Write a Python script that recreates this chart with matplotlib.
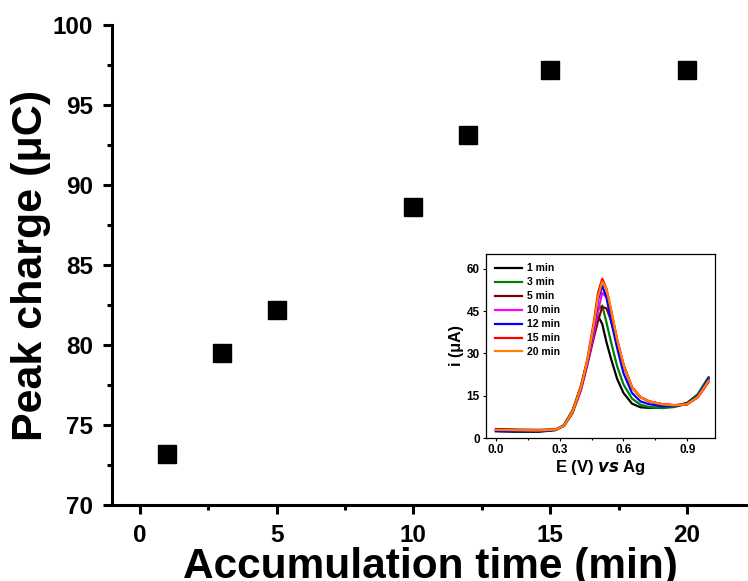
import numpy as np
import matplotlib.pyplot as plt
from matplotlib.ticker import MultipleLocator

plt.rcParams['font.family'] = ['Liberation Sans', 'DejaVu Sans']
plt.rcParams['font.weight'] = 'bold'

# main data
time_min = [1, 3, 5, 10, 12, 15, 20]
peak_charge = [73.2, 79.5, 82.2, 88.6, 93.1, 97.2, 97.2]

# inset voltammograms
E = [0.0, 0.1, 0.2, 0.28, 0.32, 0.36, 0.40, 0.43, 0.46, 0.48, 0.50, 0.52,
     0.54, 0.57, 0.60, 0.64, 0.68, 0.72, 0.78, 0.84, 0.90, 0.95, 1.0]
i_1 = [2.4, 2.2, 2.2, 2.8, 4.5, 9.5, 18, 27, 37, 43.3, 40.5, 34,
       28.5, 21, 16, 12.2, 10.9, 10.7, 10.8, 11.3, 12.5, 15.5, 21.5]
i_3 = [2.6, 2.4, 2.4, 2.9, 4.6, 9.8, 18.5, 27.5, 38, 45.5, 47, 41,
       34.5, 25.5, 19, 14, 11.8, 11.0, 10.6, 11.0, 12.3, 15.5, 21.5]
i_5 = [3.2, 3.0, 2.9, 3.1, 4.2, 8.8, 17, 26, 35.5, 41.5, 46.5, 46,
       42, 34, 26, 18, 14.5, 13.0, 12.0, 11.6, 12.0, 14.5, 20.0]
i_10 = [2.8, 2.7, 2.6, 3.0, 4.3, 9.2, 17.5, 26.5, 37, 45, 51.5, 50,
        45, 35, 26, 18, 14.5, 13.0, 12.0, 11.7, 12.0, 14.8, 20.5]
i_12 = [2.5, 2.4, 2.4, 2.9, 4.4, 9.4, 18, 27, 39, 49, 54, 50,
        42, 32, 23, 16, 13, 12.0, 11.3, 11.3, 12.0, 15.0, 21]
i_15 = [2.9, 2.8, 2.7, 3.0, 4.4, 9.5, 18.5, 28, 41, 51.5, 56.5, 53,
        46, 35, 26, 18, 14.5, 13.0, 12.0, 11.6, 12.0, 14.5, 20.0]
i_20 = [2.9, 2.8, 2.7, 3.0, 4.3, 9.3, 18, 27.5, 40, 50, 55.5, 53,
        46, 35, 26, 18, 14.5, 13.0, 12.0, 11.6, 12.0, 14.6, 20.3]
curves = [i_1, i_3, i_5, i_10, i_12, i_15, i_20]
labels = ['1 min', '3 min', '5 min', '10 min', '12 min', '15 min', '20 min']
colors = ['black', '#008000', '#800000', '#ff00ff', '#0000ff', '#ff0000', '#ff8000']

fig = plt.figure(figsize=(7.48, 5.81), dpi=100)
ax = fig.add_axes([0.1497, 0.1308, 0.8503, 0.8262])
ax.plot(time_min, peak_charge, 's', color='black', markersize=12.5)
ax.set_xlim(-1.02, 22.23)
ax.set_ylim(70, 100)
ax.xaxis.set_major_locator(MultipleLocator(5))
ax.xaxis.set_minor_locator(MultipleLocator(2.5))
ax.yaxis.set_major_locator(MultipleLocator(5))
ax.yaxis.set_minor_locator(MultipleLocator(2.5))
for s in ['top', 'right']:
    ax.spines[s].set_visible(False)
for s in ['left', 'bottom']:
    ax.spines[s].set_linewidth(2.2)
ax.tick_params(which='major', length=6.5, width=2.2, labelsize=17.5, pad=7)
ax.tick_params(which='minor', length=3.6, width=2.2)
for t in ax.get_xticklabels() + ax.get_yticklabels():
    t.set_fontweight('bold')
ax.set_xlabel('Accumulation time (min)', fontsize=30.5, fontweight='bold', labelpad=0)
ax.set_ylabel('Peak charge (\u03bcC)', fontsize=31, fontweight='bold', labelpad=1)

# inset
ins = fig.add_axes([0.6497, 0.2461, 0.306, 0.3167])
for y, lab, c in zip(curves, labels, colors):
    ins.plot(E, y, color=c, lw=1.6, label=lab)
ins.set_xlim(-0.047, 1.03)
ins.set_ylim(0, 65.3)
ins.set_xticks([0.0, 0.3, 0.6, 0.9])
ins.xaxis.set_minor_locator(MultipleLocator(0.15))
ins.set_yticks([0, 15, 30, 45, 60])
ins.tick_params(which='major', length=2.5, width=0.8, labelsize=8.5, pad=2)
ins.tick_params(which='minor', length=1.5, width=0.8)
for t in ins.get_xticklabels() + ins.get_yticklabels():
    t.set_fontweight('bold')
for s in ins.spines.values():
    s.set_linewidth(0.9)
ins.set_xlabel('E (V) $\\mathbfit{vs}$ Ag', fontsize=12, fontweight='bold', labelpad=1)
ins.set_ylabel('i (\u03bcA)', fontsize=11.5, fontweight='bold', labelpad=2)
ins.legend(loc='upper left', frameon=False, prop={'weight': 'bold', 'size': 7.5},
           handlelength=2.6, handletextpad=0.4, labelspacing=0.38,
           borderaxespad=0.6, borderpad=0.3)

fig.savefig('out.png', dpi=100)
